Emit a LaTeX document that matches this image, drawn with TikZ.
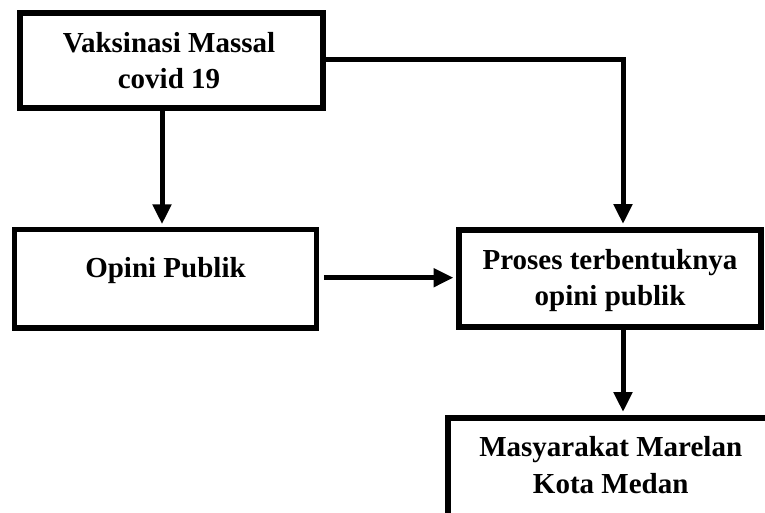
\documentclass[tikz,border=0pt]{standalone}
\usepackage{fontspec}
\setmainfont{Liberation Serif}
\usetikzlibrary{arrows.meta}
\begin{document}
\begin{tikzpicture}[x=1pt,y=-1pt,
  box/.style={draw=black, line width=6pt, inner sep=0pt},
  txt/.style={font=\fontsize{29}{36}\selectfont\bfseries, inner sep=0pt, anchor=base},
  arr/.style={line width=5pt, -{Triangle[length=20pt,width=18pt]}}]
\useasboundingbox (0,0) rectangle (765,513);
% boxes
\node[box, minimum width=303.5pt, minimum height=95pt] (b1) at (171.25,61) {};
\node[box, line width=5.5pt, minimum width=302pt, minimum height=98.5pt] (b2) at (165.5,278.75) {};
\node[box, minimum width=302pt, minimum height=97pt] (b3) at (610,278.5) {};
\begin{scope}
\clip (0,0) rectangle (765,513);
\node[box, minimum width=326pt, minimum height=150pt] (b4) at (611,493) {};
\end{scope}
% texts
\node[txt] (t1a) at (169,53) {Vaksinasi Massal};
\node[txt] (t1b) at (169,89) {covid 19};
\node[txt] (t2) at (165.5,277) {Opini Publik};
\node[txt] (t3a) at (610,269.5) {Proses terbentuknya};
\node[txt] (t3b) at (610,305) {opini publik};
\node[txt] (t4a) at (610.7,456.7) {Masyarakat Marelan};
\node[txt] (t4b) at (610.7,493.3) {Kota Medan};
% helper coordinates
\coordinate (k0) at (162,0);
\coordinate (k1) at (623,60);
\coordinate (k3) at (0,277.7);
% connectors
\draw[arr, shorten >=2.5pt] (k0 |- b1.south) -- (k0 |- b2.north);
\draw[arr, shorten <=4.5pt, shorten >=2.5pt] (b2.east |- k3) -- (b3.west |- k3);
\draw[arr, shorten >=3pt] (b1.east |- k1) -- (k1) -- (k1 |- b3.north);
\draw[arr, shorten >=3pt] (k1 |- b3.south) -- (k1 |- b4.north);
\end{tikzpicture}
\end{document}
